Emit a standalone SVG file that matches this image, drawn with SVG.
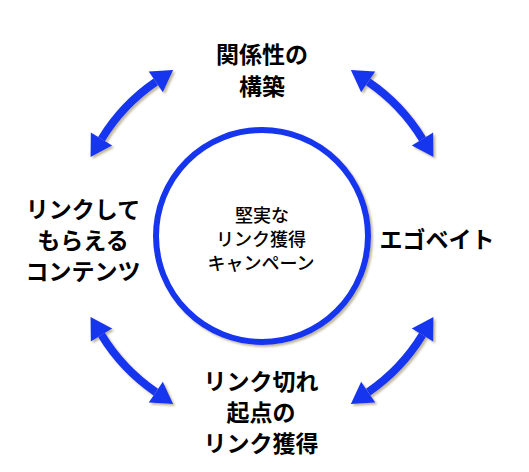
<svg xmlns="http://www.w3.org/2000/svg" width="529" height="472" viewBox="0 0 529 472">
  <style>
    .lbl { font-family: "Noto Sans CJK JP", "Noto Sans", sans-serif; font-weight: bold; font-size: 23px; fill: #000; text-anchor: middle; }
    .ctr { font-family: "Noto Sans CJK JP", "Noto Sans", sans-serif; font-weight: 500; font-size: 18px; fill: #000; text-anchor: middle; }
    .shaft { fill: none; stroke: #1434ee; stroke-width: 8; marker-start: url(#head); marker-end: url(#head); }
  </style>
  <defs>
    <filter id="shadow" x="-20%" y="-20%" width="140%" height="140%">
      <feDropShadow dx="2" dy="2" stdDeviation="1" flood-color="#8a8050" flood-opacity="0.55"/>
    </filter>
    <marker id="head" markerUnits="userSpaceOnUse" viewBox="0 -13 22 26" refX="0" refY="0" markerWidth="22" markerHeight="26" orient="auto-start-reverse" overflow="visible">
      <path d="M0,-12.5 L21,0 L0,12.5 z" fill="#1434ee"/>
    </marker>
  </defs>
  <rect width="529" height="472" fill="#fff"/>

  <g id="connectors" filter="url(#shadow)">
    <path class="shaft" d="M101.5,139.1 A188,188 0 0 1 155.8,81.9"/>
    <path class="shaft" d="M368.2,81.9 A188,188 0 0 1 422.5,139.1"/>
    <path class="shaft" d="M422.5,334.9 A188,188 0 0 1 368.2,392.1"/>
    <path class="shaft" d="M155.8,392.1 A188,188 0 0 1 101.5,334.9"/>
  </g>

  <g id="center">
    <circle cx="262" cy="236" r="106" fill="#fff" stroke="#1434ee" stroke-width="6" filter="url(#shadow)"/>
    <text class="ctr" x="262" y="222">堅実な</text>
    <text class="ctr" x="261" y="246">リンク獲得</text>
    <text class="ctr" x="261" y="270">キャンペーン</text>
  </g>

  <g id="top">
    <text class="lbl" x="262" y="63">関係性の</text>
    <text class="lbl" x="262" y="95">構築</text>
  </g>

  <g id="left">
    <text class="lbl" x="83" y="218">リンクして</text>
    <text class="lbl" x="83" y="249">もらえる</text>
    <text class="lbl" x="83" y="280">コンテンツ</text>
  </g>

  <g id="right">
    <text class="lbl" x="437" y="248">エゴベイト</text>
  </g>

  <g id="bottom">
    <text class="lbl" x="261" y="390">リンク切れ</text>
    <text class="lbl" x="261" y="421">起点の</text>
    <text class="lbl" x="261" y="452">リンク獲得</text>
  </g>
</svg>
